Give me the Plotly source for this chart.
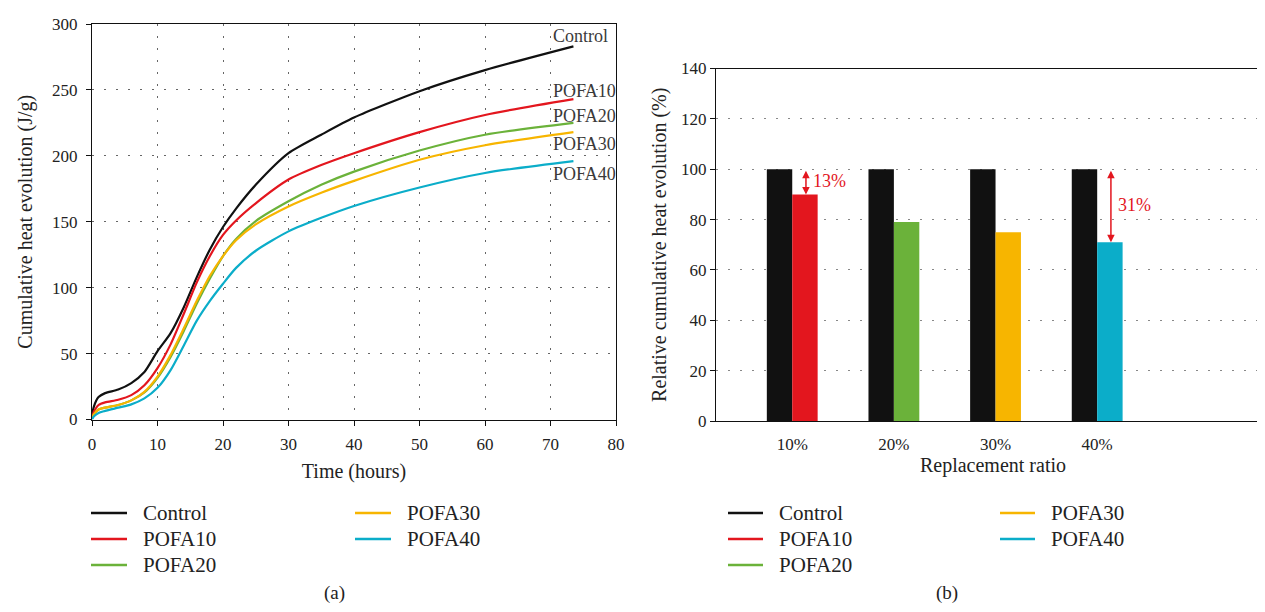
import plotly.graph_objects as go

# ---------------- data ----------------
series_names = ["Control", "POFA10", "POFA20", "POFA30", "POFA40"]
series_colors = ["#111111", "#E3161E", "#6BB23A", "#F7B500", "#0BADC9"]

time_h = [0, 0.3, 1, 2, 4, 6, 8, 10, 12, 14, 16, 18, 20, 22, 25, 30, 35, 40, 50, 60, 73.5]
heat_control = [3, 10, 17, 20, 22.7, 27.6, 36, 51.8, 65.5, 85, 108, 129, 146, 160, 178, 202, 216, 229, 249, 265, 283]
heat_pofa10 = [2, 6, 11, 13, 15, 18.5, 26, 39, 57, 80, 104, 124, 140, 151, 164, 182, 193, 202, 218, 231, 243]
heat_pofa20 = [1, 4, 7.6, 9, 11, 14.5, 20.5, 31.6, 47.5, 67, 88, 107, 124, 137, 150.5, 165.5, 178, 188, 204, 216, 225]
heat_pofa30 = [1, 4, 7.6, 9, 11, 14.5, 21, 32.5, 49, 69, 90, 109, 124, 136, 148, 161.6, 172, 181, 197, 208, 218]
heat_pofa40 = [0, 2.5, 5, 6.5, 9, 11.5, 16, 24, 37.5, 56, 75, 90, 103, 115, 128, 142.7, 153, 162, 176, 187, 196]
heat_series = [heat_control, heat_pofa10, heat_pofa20, heat_pofa30, heat_pofa40]
label_y = [291, 249, 230.5, 209, 186]

ratio_cats = ["10%", "20%", "30%", "40%"]
relative_control = [100, 100, 100, 100]
relative_pofa = [90, 79, 75, 71]
reductions = [("13%", 0, 95.3), ("31%", 3, 85.8)]

FONT = "Liberation Serif, Times New Roman, serif"
W, H = 1265, 612


def px_x(p):
    return p / W


def px_y(p):
    return 1 - p / H


fig = go.Figure()

# ---------------- (a) cumulative heat curves ----------------
for i, (name, ys) in enumerate(zip(series_names, heat_series)):
    fig.add_trace(go.Scatter(
        x=time_h, y=ys, mode="lines", name=name, showlegend=False,
        line=dict(color=series_colors[i], width=2.2, shape="spline", smoothing=0.7),
        xaxis="x", yaxis="y",
    ))
    fig.add_annotation(x=70, y=label_y[i], xref="x", yref="y", text=name,
                       showarrow=False, xanchor="left", yanchor="middle",
                       font=dict(family=FONT, size=18, color="#3a3a3a"))

# ---------------- (b) relative bars ----------------
fig.add_trace(go.Bar(x=ratio_cats, y=relative_control,
                     marker=dict(color=series_colors[0], line=dict(width=0)),
                     xaxis="x2", yaxis="y2", showlegend=False, name="Control"))
fig.add_trace(go.Bar(x=ratio_cats, y=relative_pofa,
                     marker=dict(color=series_colors[1:], line=dict(width=0)),
                     xaxis="x2", yaxis="y2", showlegend=False, name="POFA"))

for txt, ci, ty in reductions:
    lo = relative_pofa[ci]
    hi = relative_control[ci]
    fig.add_annotation(x=ci + 0.135, y=lo, ax=ci + 0.135, ay=hi, xref="x2", yref="y2",
                       axref="x2", ayref="y2", text="", showarrow=True,
                       arrowhead=2, startarrowhead=2, arrowside="end+start",
                       arrowsize=1, startarrowsize=1, arrowwidth=1.5, arrowcolor="#E3161E")
    fig.add_annotation(x=ci + 0.185, y=ty, xref="x2", yref="y2", text=txt, showarrow=False,
                       xanchor="left", yanchor="middle",
                       font=dict(family=FONT, size=18, color="#E3161E"))

# ---------------- legends (two columns, one under each panel) ----------------
legend_blocks = [
    # (col1 line x0, col2 line x0, line length, text offset)
    (83, 347, 36, 50),
    (720, 992, 35, 49),
]
row_y = [505, 531, 557]
for col1_x, col2_x, llen, tgap in legend_blocks:
    for i, name in enumerate(series_names):
        col_x = col1_x if i < 3 else col2_x
        ry = row_y[i if i < 3 else i - 3]
        fig.add_shape(type="line", xref="paper", yref="paper",
                      x0=px_x(col_x), x1=px_x(col_x + llen), y0=px_y(ry), y1=px_y(ry),
                      line=dict(color=series_colors[i], width=2.5))
        fig.add_annotation(x=px_x(col_x + tgap), y=px_y(ry), xref="paper", yref="paper",
                           text=name, showarrow=False, xanchor="left", yanchor="middle",
                           font=dict(family=FONT, size=21, color="#222"))

# ---------------- layout ----------------
tickfont = dict(family=FONT, size=17, color="#222")
titlefont = dict(family=FONT, size=20, color="#222")
grid_dash = "2px,10px"

fig.update_layout(
    width=W, height=H, margin=dict(l=0, r=0, t=0, b=0, autoexpand=False),
    paper_bgcolor="white", plot_bgcolor="white",
    font=dict(family=FONT, color="#222"),
    barmode="group", bargap=0.5, bargroupgap=0,
    showlegend=False,
    xaxis=dict(domain=[px_x(84), px_x(608)], range=[0, 80], dtick=10, tick0=0,
               showline=True, linecolor="#111", linewidth=1.3, mirror=True,
               ticks="outside", ticklen=5, tickcolor="#111", ticklabelstandoff=4,
               showgrid=True, gridcolor="#666", griddash=grid_dash, gridwidth=1,
               zeroline=False, tickfont=tickfont, automargin=False,
               title=dict(text="Time (hours)", font=titlefont, standoff=10)),
    yaxis=dict(domain=[px_y(411.5), px_y(16)], range=[0, 300], dtick=50,
               showline=True, linecolor="#111", linewidth=1.3, mirror=True,
               ticks="outside", ticklen=5, tickcolor="#111", ticklabelstandoff=5,
               showgrid=True, gridcolor="#666", griddash=grid_dash, gridwidth=1,
               zeroline=False, tickfont=tickfont, automargin=False,
               title=dict(text="Cumulative heat evolution (J/g)", font=titlefont, standoff=13)),
    xaxis2=dict(domain=[px_x(708), px_x(1262)], range=[-0.75, 4.7], type="category",
                showline=True, linecolor="#111", linewidth=1.3, mirror=True,
                ticks="", showgrid=False, zeroline=False, tickfont=tickfont, automargin=False,
                ticklabelstandoff=7,
                title=dict(text="Replacement ratio", font=titlefont, standoff=4),
                anchor="y2"),
    yaxis2=dict(domain=[px_y(413), px_y(60.5)], range=[0, 140], dtick=20,
                showline=True, linecolor="#111", linewidth=1.3, mirror=True,
                ticks="outside", ticklen=5, tickcolor="#111",
                showgrid=True, gridcolor="#888", griddash=grid_dash, gridwidth=1,
                zeroline=False, tickfont=tickfont, automargin=False,
                title=dict(text="Relative cumulative heat evolution (%)", font=titlefont, standoff=8),
                anchor="x2"),
)

fig.add_annotation(x=px_x(314), y=px_y(598), xref="paper", yref="paper", text="(a)",
                   showarrow=False, font=dict(family=FONT, size=19, color="#222"))
fig.add_annotation(x=px_x(952), y=px_y(598), xref="paper", yref="paper", text="(b)",
                   showarrow=False, font=dict(family=FONT, size=19, color="#222"))

fig.write_html("out.html")
